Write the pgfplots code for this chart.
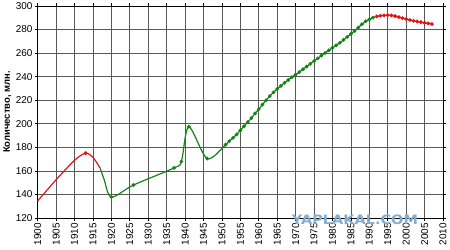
\documentclass[border=0pt]{standalone}
\usepackage{pgfplots}
\pgfplotsset{compat=1.18}
\usepackage{fontspec}
\setmainfont{Liberation Sans}
\newfontfamily\wmfont{DejaVu Sans}
\definecolor{cred}{RGB}{225,20,20}
\definecolor{cgreen}{RGB}{20,130,20}
\definecolor{wm}{RGB}{130,172,208}
\begin{document}
\begin{tikzpicture}
\begin{axis}[
  scale only axis, width=405.3bp, height=212bp,
  xmin=1900, xmax=2010, ymin=120, ymax=300,
  xtick={1900,1905,...,2010}, ytick={120,140,...,300},
  grid=major, major grid style={black!65, line width=0.7pt},
  axis line style={black, line width=0.8pt},
  tick align=outside, tick style={black, line width=0.7pt}, major tick length=3bp,
  /pgf/number format/assume math mode=true,
  /pgf/number format/1000 sep={},
  ticklabel style={font=\fontsize{10}{11}\selectfont},
  x tick label style={rotate=90, anchor=east, inner sep=2bp},
  y tick label style={inner sep=2bp},
  ylabel={\bfseries Количество, млн.},
  ylabel style={font=\fontsize{9.5}{10}\selectfont, at={(ticklabel cs:0.5)}, anchor=south, yshift=-1bp},
  clip=false,
]
\addplot[cred, line width=1.2pt, smooth, mark=*, mark size=1.3pt, mark indices={4}] coordinates {
(1900,134.5) (1905,152.5) (1910,169) (1913,175) (1915,171.5) (1917,162)
};
\addplot[cgreen, line width=1.2pt, smooth, mark=*, mark size=1.2pt, mark indices={3,...,60}] coordinates {
(1917,162) (1918,153) (1920,137.8) (1926,148) (1937,162.5) (1939,168) (1941,197.5) (1946,170.5)
(1951,182.3) (1952,185.3) (1953,188.0) (1954,191.0) (1955,194.4) (1956,197.9) (1957,201.4)
(1958,204.9) (1959,208.8) (1960,212.4) (1961,216.3) (1962,220.0) (1963,223.5) (1964,226.7)
(1965,229.6) (1966,232.2) (1967,234.8) (1968,237.2) (1969,239.5) (1970,241.7) (1971,243.9)
(1972,246.3) (1973,248.6) (1974,250.9) (1975,253.3) (1976,255.5) (1977,257.9) (1978,260.1)
(1979,262.4) (1980,264.5) (1981,266.6) (1982,268.8) (1983,271.2) (1984,273.8) (1985,276.3)
(1986,278.8) (1987,281.7) (1988,284.5) (1989,287.0) (1990,288.6) (1991,290.1)
};
\addplot[cred, line width=1.2pt, smooth, mark=*, mark size=1.2pt, mark indices={2,...,20}] coordinates {
(1991,290.1) (1992,291.2) (1993,291.7) (1994,292.0) (1995,292.2) (1996,292.0) (1997,291.4)
(1998,290.6) (1999,289.7) (2000,288.9) (2001,288.1) (2002,287.4) (2003,286.8) (2004,286.3)
(2005,285.7) (2006,285.2) (2007,284.7)
};
\node[wm, inner sep=0pt] at (axis cs:1986.1,118.3) {\scalebox{1.12}[1]{\wmfont\bfseries\fontsize{13}{14}\selectfont YAPLAKAL.COM}};
\end{axis}
\pgfresetboundingbox
\path[use as bounding box] (-37.7bp,-32bp) rectangle (412.3bp,218bp);
\end{tikzpicture}
\end{document}
